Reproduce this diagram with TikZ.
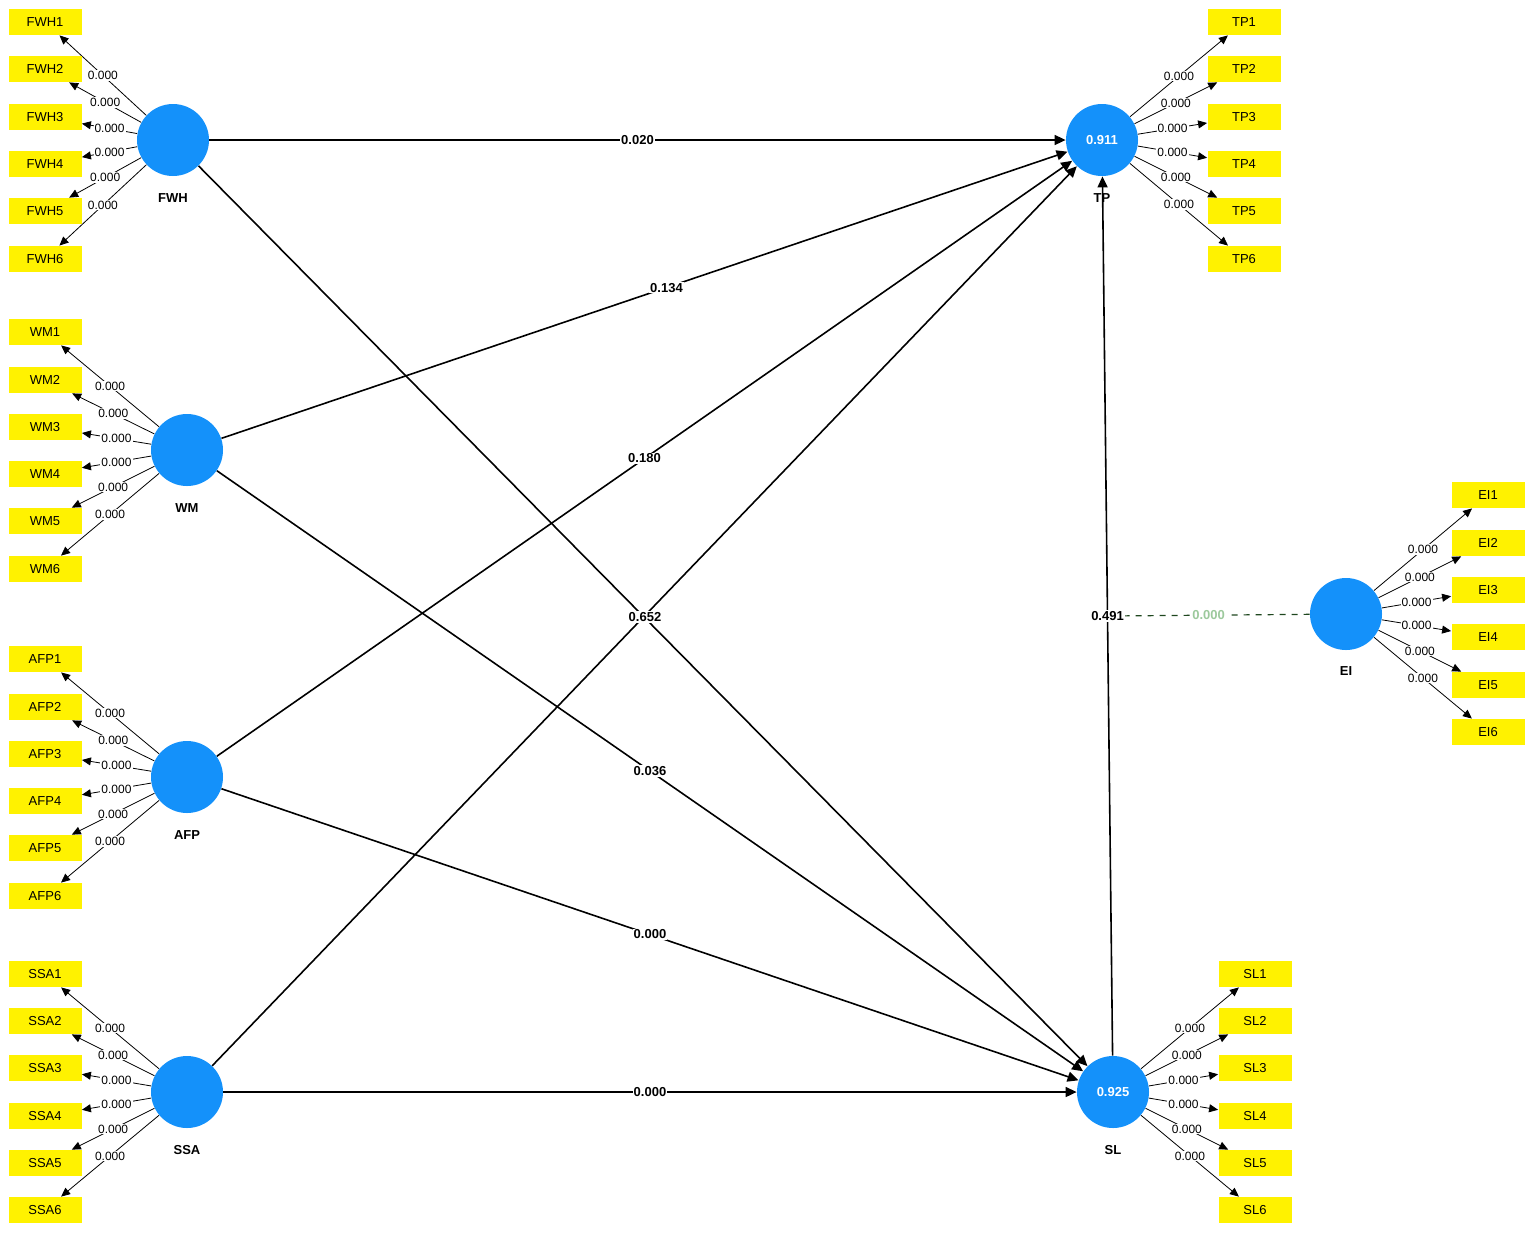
\documentclass[tikz,border=0pt]{standalone}
\usepackage{fontspec}
\setmainfont{Liberation Sans}
\usetikzlibrary{arrows.meta}
\begin{document}
\begin{tikzpicture}[x=0.5pt,y=-0.5pt,
 lat/.style={circle,fill=cyan!50!blue!85!white,draw=none,minimum size=36pt,inner sep=0pt,text=white,font=\fontsize{6.5}{7}\selectfont\bfseries},
 ind/.style={fill=yellow,minimum width=36.5pt,minimum height=13pt,inner sep=0pt,font=\fontsize{6.5}{7}\selectfont},
 ld/.style={-{Triangle[length=4.5pt,width=4pt]},line width=0.4pt},
 pth/.style={-{Triangle[length=5.5pt,width=5pt]},line width=0.8pt},
 ll/.style={fill=white,inner sep=0.5pt,font=\fontsize{6}{7}\selectfont,pos=0.5},
 pl/.style={fill=white,inner sep=0.5pt,font=\fontsize{6.5}{7}\selectfont\bfseries},
 nm/.style={font=\fontsize{6.5}{7}\selectfont\bfseries}]
\useasboundingbox (0,0) rectangle (1535,1233);
\definecolor{lc}{RGB}{20,145,250}
\tikzset{lat/.append style={fill=lc}}
% latent
\node[lat] (FWH) at (173,140) {};
\node[lat] (WM) at (187,450) {};
\node[lat] (AFP) at (187,777) {};
\node[lat] (SSA) at (187,1092) {};
\node[lat] (TP) at (1102,140) {0.911};
\node[lat] (SL) at (1113,1092) {0.925};
\node[lat] (EI) at (1346,614) {};
\node[nm] at (173,198) {FWH};
\node[nm] at (187,508) {WM};
\node[nm] at (187,835) {AFP};
\node[nm] at (187,1150) {SSA};
\node[nm] at (1102,198) {TP};
\node[nm] at (1113,1150) {SL};
\node[nm] at (1346,671) {EI};
% indicators
\foreach \n/\x/\ys in {FWH/45/{22,69,117,164,211,259},WM/45/{332,380,427,474,521,569},AFP/45/{659,707,754,801,848,896},SSA/45/{974,1021,1068,1116,1163,1210},TP/1244/{22,69,117,164,211,259},SL/1255/{974,1021,1068,1116,1163,1210},EI/1488/{495,543,590,637,685,732}}{
 \foreach \y [count=\i] in \ys {
  \node[ind] (\n\i) at (\x,\y) {\n\i};
  \draw[ld] (\n) -- node[ll]{0.000} (\n\i);
 }
}
% paths
\draw[pth] (FWH) -- node[pl]{0.020} (TP);
\draw[pth] (WM) -- node[pl,pos=0.526]{0.134} (TP);
\draw[pth] (AFP) -- node[pl,pos=0.5]{0.180} (TP);
\draw[pth] (SSA) -- (TP);
\draw[pth] (FWH) -- (SL);
\draw[pth] (WM) -- node[pl,pos=0.5]{0.036} (SL);
\draw[pth] (AFP) -- node[pl,pos=0.5]{0.000} (SL);
\draw[pth] (SSA) -- node[pl]{0.000} (SL);
\draw[pth] (SL) -- coordinate[pos=0.5] (m) (TP);
\node[pl] at (645,617) {0.652};
\draw[dashed,gray!60!green!40!black,line width=0.6pt] (EI) -- node[fill=white,inner sep=0.5pt,font=\fontsize{6.5}{7}\selectfont\bfseries,text=gray!70!green!60!white]{0.000} (m);
\node[pl] at (m) {0.491};
\end{tikzpicture}
\end{document}
